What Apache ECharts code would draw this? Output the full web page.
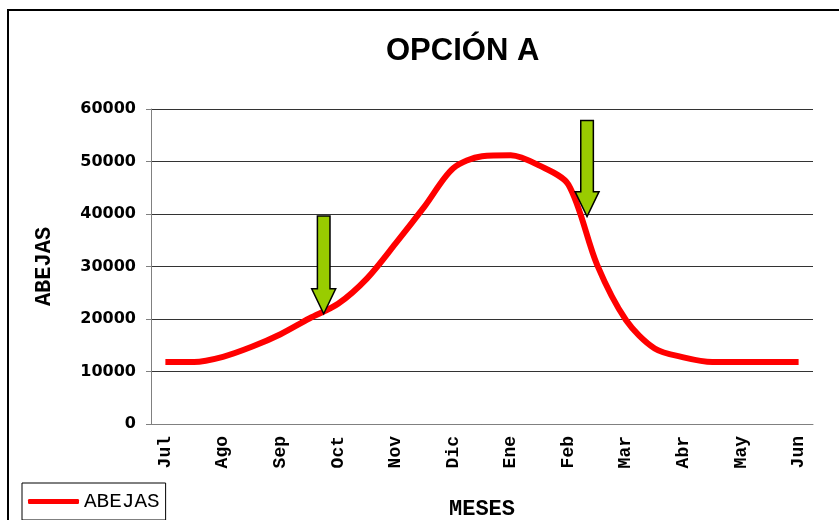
<!DOCTYPE html>
<html>
<head>
<meta charset="utf-8">
<script src="https://cdn.jsdelivr.net/npm/echarts@6/dist/echarts.min.js"></script>
<style>html,body{margin:0;padding:0;background:#fff}#chart{width:839px;height:520px}</style>
</head>
<body>
<div id="chart"></div>
<script>
// semi-monthly points, only the month starts get a label
var categories = ['Jul','','Ago','','Sep','','Oct','','Nov','','Dic','','Ene','','Feb','','Mar','','Abr','','May','','Jun'];
var abejas = [11800,11800,12800,14700,17100,20100,22900,27700,34400,41400,48700,51000,51200,49200,45600,30300,19800,14400,12700,11800,11800,11800,11800];
var yMin = 0, yMax = 60000, yStep = 10000;
// green arrows: position on the category axis, tip value, tail value
var arrowAt = [5.5, 14.65];
var arrowTip = [21000, 39500];
var arrowTail = [39600, 57800];

var monoBold = {fontFamily: 'Liberation Mono', fontWeight: 'bold', color: '#000'};

var myChart = echarts.init(document.getElementById('chart'));
var option = {
  backgroundColor: '#fff',
  animation: false,
  title: {
    text: 'OPCIÓN A',
    left: 386, top: 36, padding: 0,
    textStyle: {fontFamily: 'Liberation Sans', fontWeight: 'bold', fontSize: 31, color: '#000'}
  },
  legend: {
    data: ['ABEJAS'],
    left: 22, top: 483,
    icon: 'roundRect',
    itemWidth: 51, itemHeight: 5,
    padding: [8, 6, 8, 6],
    borderColor: '#000', borderWidth: 1,
    textStyle: {fontFamily: 'Liberation Mono', fontSize: 21, color: '#000'}
  },
  grid: {left: 151, top: 109, width: 662, height: 315, containLabel: false, outerBoundsMode: 'none'},
  xAxis: {
    type: 'category',
    data: categories,
    boundaryGap: true,
    name: 'MESES',
    nameLocation: 'middle',
    nameGap: 74,
    nameTextStyle: Object.assign({fontSize: 22}, monoBold),
    axisLine: {lineStyle: {color: '#808080', width: 1}},
    axisTick: {interval: 0, length: 5, lineStyle: {color: '#808080'}},
    axisLabel: Object.assign({interval: 0, rotate: 90, fontSize: 18, margin: 12}, monoBold),
    splitLine: {show: false}
  },
  yAxis: {
    type: 'value',
    min: yMin, max: yMax, interval: yStep,
    name: 'ABEJAS',
    nameLocation: 'middle',
    nameGap: 96,
    nameRotate: 90,
    nameTextStyle: Object.assign({fontSize: 22}, monoBold),
    axisLine: {show: true, lineStyle: {color: '#808080', width: 1}},
    axisTick: {show: true, length: 5, lineStyle: {color: '#808080'}},
    axisLabel: {
      fontFamily: 'DejaVu Sans', fontWeight: 'bold', fontSize: 16, color: '#000', margin: 15,
      formatter: function (v) { return String(v); }
    },
    splitLine: {lineStyle: {color: '#333', width: 1}}
  },
  series: [{
    name: 'ABEJAS',
    type: 'line',
    data: abejas,
    smooth: 0.3,
    showSymbol: false,
    symbol: 'none',
    itemStyle: {color: '#ff0000'},
    lineStyle: {color: '#ff0000', width: 6}
  }],
  graphic: [{
    type: 'rect',
    shape: {x: 8, y: 10, width: 900, height: 600},
    style: {fill: null, stroke: '#000', lineWidth: 2},
    silent: true
  }]
};
myChart.setOption(option);

// draw the arrows at positions taken from the axes
function xAt(pos) {
  var i = Math.floor(pos), f = pos - i;
  var a = myChart.convertToPixel({xAxisIndex: 0}, i);
  var b = myChart.convertToPixel({xAxisIndex: 0}, i + 1);
  return a + (b - a) * f;
}
var arrows = [];
for (var k = 0; k < arrowAt.length; k++) {
  var x = xAt(arrowAt[k]);
  var yT = myChart.convertToPixel({yAxisIndex: 0}, arrowTip[k]);
  var yB = myChart.convertToPixel({yAxisIndex: 0}, arrowTail[k]);
  var hb = yT - 25;
  arrows.push({
    type: 'polygon',
    z: 100,
    shape: {points: [[x - 6.3, yB], [x + 6.3, yB], [x + 6.3, hb], [x + 12, hb], [x, yT], [x - 12, hb], [x - 6.3, hb]]},
    style: {fill: '#99cc00', stroke: '#000', lineWidth: 1.5}
  });
}
myChart.setOption({graphic: option.graphic.concat(arrows)});
</script>
</body>
</html>
